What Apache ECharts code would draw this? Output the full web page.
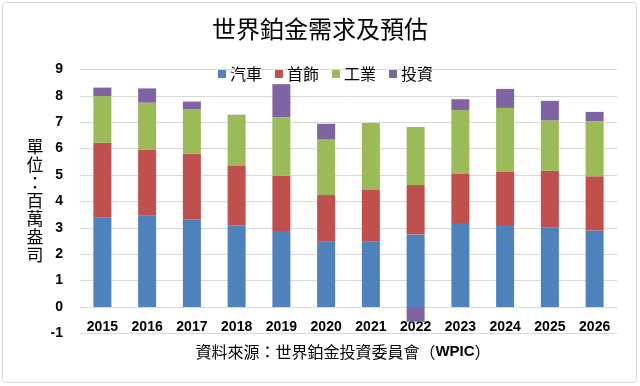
<!DOCTYPE html>
<html>
<head>
<meta charset="utf-8">
<script src="https://cdn.jsdelivr.net/npm/echarts@6/dist/echarts.min.js"></script>
<style>
html,body{margin:0;padding:0;background:#fff;}
#c{width:640px;height:386px;}
</style>
</head>
<body>
<div id="c"></div>
<script>
const years = ['2015','2016','2017','2018','2019','2020','2021','2022','2023','2024','2025','2026'];
const autoVals = [3.38, 3.46, 3.32, 3.09, 2.88, 2.47, 2.47, 2.75, 3.18, 3.11, 3.00, 2.90];
const jewelryVals = [2.84, 2.49, 2.48, 2.25, 2.09, 1.77, 1.96, 1.87, 1.88, 2.00, 2.16, 2.05];
const industrialVals = [1.77, 1.79, 1.70, 1.92, 2.22, 2.11, 2.54, 2.20, 2.40, 2.43, 1.91, 2.08];
const investmentVals = [0.32, 0.54, 0.28, 0.02, 1.25, 0.59, 0.00, -0.56, 0.41, 0.72, 0.74, 0.36];
const seriesNames = ['汽車', '首飾', '工業', '投資'];
const seriesColors = ['#4F81BD', '#C0504D', '#9BBB59', '#8064A2'];
const yTicks = {min: -1, max: 9, interval: 1};
const titleText = '世界鉑金需求及預估';
const yAxisName = '單位：百萬盎司';
const sourceText = '資料來源：世界鉑金投資委員會（';

const cjk = '"Noto Sans CJK TC", "Noto Sans CJK SC", sans-serif';
const latinBold = '"Liberation Sans", Arial, sans-serif';
const allVals = [autoVals, jewelryVals, industrialVals, investmentVals];

const gridTop = 69.4, gridBottom = 52.6;
const unitPx = (386 - gridTop - gridBottom) / (yTicks.max - yTicks.min);

const chart = echarts.init(document.getElementById('c'));
chart.setOption({
  animation: false,
  backgroundColor: '#ffffff',
  title: {
    text: titleText,
    left: 'center',
    top: 12,
    textStyle: {fontFamily: cjk, fontSize: 24, fontWeight: 'normal', color: '#000'}
  },
  legend: {
    data: seriesNames,
    left: 213,
    top: 61,
    itemWidth: 8,
    itemHeight: 8,
    itemGap: 13,
    icon: 'rect',
    textStyle: {fontFamily: cjk, fontSize: 16, color: '#000', padding: [0,0,0,-1]}
  },
  grid: {left: 80, right: 23, top: gridTop, bottom: gridBottom, containLabel: false},
  xAxis: {
    type: 'category',
    data: years,
    position: 'bottom',
    offset: -unitPx * (0 - yTicks.min),
    axisLine: {show: false, onZero: false},
    axisTick: {show: false},
    axisLabel: {fontFamily: latinBold, fontWeight: 'bold', fontSize: 14, color: '#000', margin: 13}
  },
  yAxis: {
    type: 'value',
    min: yTicks.min, max: yTicks.max, interval: yTicks.interval,
    axisLine: {show: false},
    axisTick: {show: false},
    axisLabel: {fontFamily: latinBold, fontWeight: 'bold', fontSize: 14, color: '#000', margin: 17},
    splitLine: {lineStyle: {color: '#d9d9d9', width: 1}}
  },
  graphic: [
    {type: 'rect', shape: {x: 2.5, y: 2.5, width: 634, height: 380, r: 3}, style: {fill: 'none', stroke: '#d9d9d9', lineWidth: 1}, silent: true, z: -1},
    {type: 'text', x: 35, y: 201, style: {
      text: yAxisName.split('').join('\n'),
      fontFamily: cjk, fontSize: 17, lineHeight: 18, fill: '#000',
      align: 'center', verticalAlign: 'middle'
    }},
    {type: 'text', x: 343, y: 352, style: {
      text: '{a|' + sourceText + '}{b|WPIC}{a|）}',
      align: 'center', verticalAlign: 'middle',
      rich: {
        a: {fontFamily: cjk, fontSize: 16, fill: '#000'},
        b: {fontFamily: latinBold, fontSize: 15, fontWeight: 'bold', fill: '#000'}
      }
    }}
  ],
  series: seriesNames.map((n, i) => ({
    name: n,
    type: 'bar',
    stack: 'total',
    barWidth: 18,
    itemStyle: {color: seriesColors[i]},
    data: allVals[i]
  }))
});
</script>
</body>
</html>
